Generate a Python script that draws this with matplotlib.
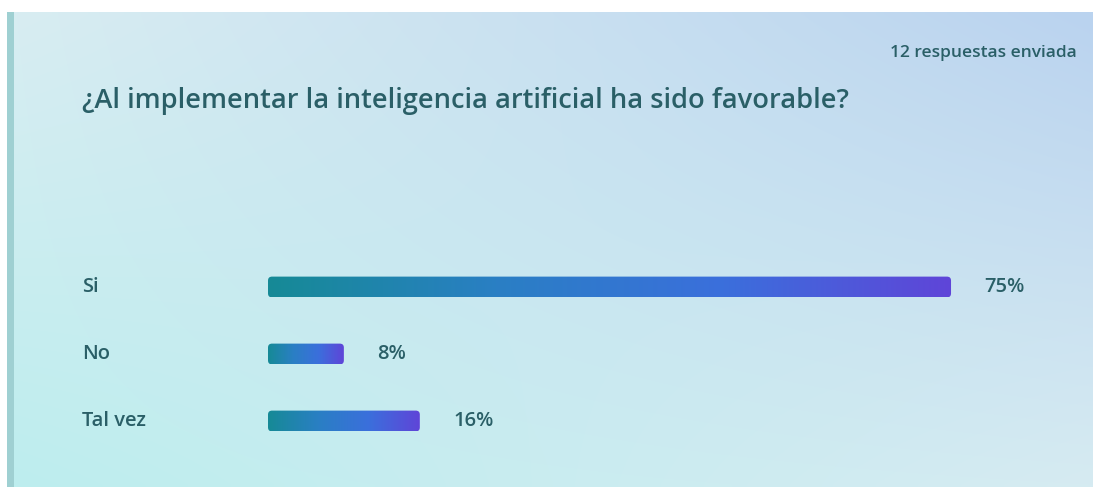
import numpy as np
import matplotlib.pyplot as plt
from matplotlib.patches import FancyBboxPatch, Rectangle
from matplotlib.colors import LinearSegmentedColormap, to_rgb
from matplotlib.transforms import blended_transform_factory

categorias = ['Si', 'No', 'Tal vez']
porcentajes = [75.0, 8.33, 16.67]
etiquetas = ['75%', '8%', '16%']
titulo = '¿Al implementar la inteligencia artificial ha sido favorable?'
respuestas = '12 respuestas enviada'

W, H = 1093, 487
fig = plt.figure(figsize=(W / 100, H / 100), dpi=100)
fig.patch.set_facecolor('white')
plt.rcParams['font.family'] = ['Open Sans', 'DejaVu Sans']
texto_color = '#2a5f67'

# fondo degradado
bg = fig.add_axes([0, 0, 1, 1])
bg.set_xlim(0, W)
bg.set_ylim(H, 0)
bg.axis('off')
tl, tr = np.array(to_rgb('#d8edf2')), np.array(to_rgb('#bad3ef'))
bl, br = np.array(to_rgb('#bdeeee')), np.array(to_rgb('#d6ebf2'))
u = np.linspace(0, 1, 200)[None, :, None]
v = np.linspace(0, 1, 100)[:, None, None]
img = (1 - v) * ((1 - u) * tl + u * tr) + v * ((1 - u) * bl + u * br)
bg.imshow(img, extent=(14, W, H, 12), aspect='auto', interpolation='bilinear')
bg.add_patch(Rectangle((7, 12), 7, H - 12, color='#9fd0d2', lw=0))

bg.text(82, 101, titulo, fontsize=19.6, fontweight='semibold', color=texto_color,
        va='center', ha='left')
bg.text(1077, 53, respuestas, fontsize=12.5, fontweight='semibold', color=texto_color,
        va='center', ha='right')

# barras
px_pct = 9.107
ax_left, ax_w = 268, 800
ax = fig.add_axes([ax_left / W, (H - 454.5) / H, ax_w / W, 201 / H])
ax.axis('off')

cmap = LinearSegmentedColormap.from_list('barra', ['#168a96', '#2a7fc4', '#3b6fdc', '#5f45d8'])
grad = np.linspace(0, 1, 256)[None, :]
alto = 0.31
ry = 4 / 67
rx = 4 / px_pct

bars = ax.barh(range(len(categorias)), porcentajes, height=alto, color='none')
for b in bars:
    x0, y0, w, h = b.get_x(), b.get_y(), b.get_width(), b.get_height()
    patch = FancyBboxPatch((x0, y0), w, h, boxstyle=f'round,pad=0,rounding_size={rx}',
                           mutation_aspect=ry / rx, fc='none', ec='none')
    ax.add_patch(patch)
    im = ax.imshow(grad, cmap=cmap, extent=(x0, x0 + w, y0 + h, y0), aspect='auto')
    im.set_clip_path(patch)

ax.set_xlim(0, ax_w / px_pct)
ax.set_ylim(2.5, -0.5)

trans = blended_transform_factory(bg.transData, ax.transData)
for i, (cat, val, lab) in enumerate(zip(categorias, porcentajes, etiquetas)):
    ax.text(82, i, cat, transform=trans, fontsize=14.5, fontweight='semibold',
            color=texto_color, va='center', ha='left')
    ax.text(val + 3.7, i, lab, fontsize=14.5, fontweight='semibold',
            color=texto_color, va='center', ha='left')

fig.savefig('out.png', dpi=100)
